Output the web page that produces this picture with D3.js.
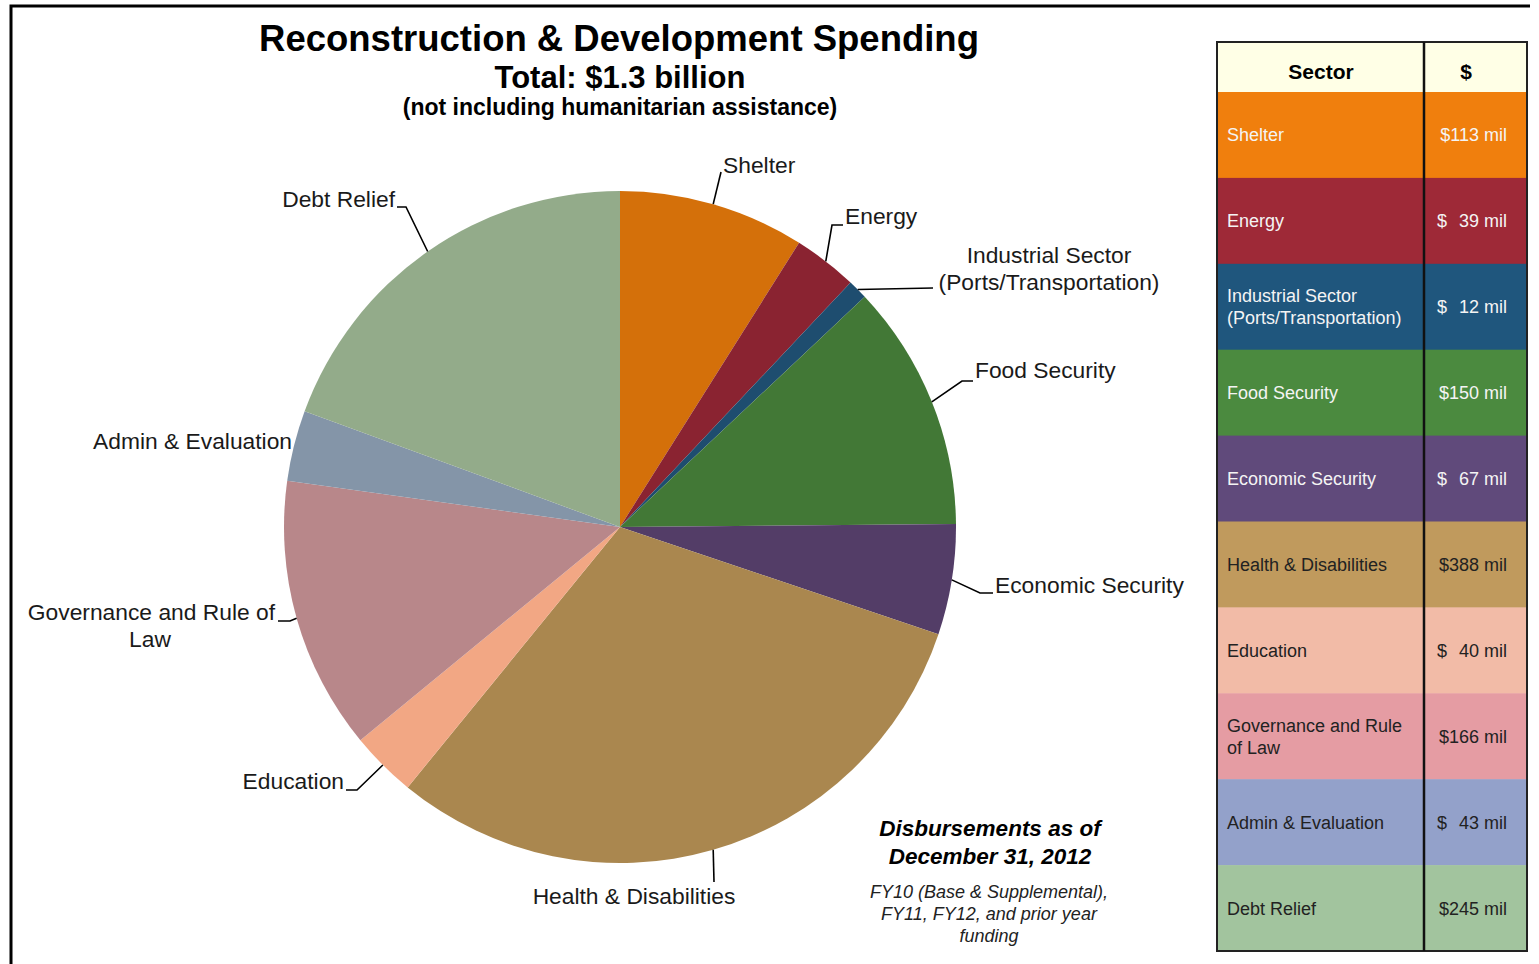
<!DOCTYPE html>
<html><head><meta charset="utf-8">
<script src="https://cdn.jsdelivr.net/npm/d3@7/dist/d3.min.js"></script>
<style>html,body{margin:0;padding:0;background:#fff;}svg{display:block;}</style>
</head><body>
<svg id="c" width="1539" height="964"></svg>
<script>
// ---- data ----
const sectors = ["Shelter","Energy","Industrial Sector (Ports/Transportation)","Food Security","Economic Security","Health & Disabilities","Education","Governance and Rule of Law","Admin & Evaluation","Debt Relief"];
const values = [113,39,12,150,67,388,40,166,43,245];
const pieLabelLines = [["Shelter"],["Energy"],["Industrial Sector","(Ports/Transportation)"],["Food Security"],["Economic Security"],["Health & Disabilities"],["Education"],["Governance and Rule of","Law"],["Admin & Evaluation"],["Debt Relief"]];
const tableLabelLines = [["Shelter"],["Energy"],["Industrial Sector","(Ports/Transportation)"],["Food Security"],["Economic Security"],["Health & Disabilities"],["Education"],["Governance and Rule","of Law"],["Admin & Evaluation"],["Debt Relief"]];
const titleText = "Reconstruction & Development Spending";
const subtitleText = "Total: $1.3 billion";
const noteText = "(not including humanitarian assistance)";
const dateLines = ["Disbursements as of","December 31, 2012"];
const fundLines = ["FY10 (Base & Supplemental),","FY11, FY12, and prior year","funding"];

// ---- styles ----
const pieColors = ["#D4700A","#8A2331","#1E4D6F","#427836","#533D67","#AA874F","#F2A784","#B8878A","#8495A8","#93AB8A"];
const tableColors = ["#F07F0D","#9E2937","#1F567D","#4B8A3F","#604A7B","#C09A5D","#F2BBA7","#E59CA3","#93A1CA","#A2C49E"];
const tableTextColors = ["#f4f4f4","#f4f4f4","#f4f4f4","#f4f4f4","#f4f4f4","#222","#222","#222","#222","#222"];
const FONT = "'Liberation Sans', Arial, sans-serif";

// label layout: elbow points, text anchor x, baseline y, anchor
const labelLayout = [
  {pts:[[721,172]], tx:723, ty:173, anchor:"start"},
  {pts:[[832,225],[843,225]], tx:845, ty:224, anchor:"start"},
  {pts:[[933,288]], tx:1049, ty:263, anchor:"middle"},
  {pts:[[962,381],[973,381]], tx:975, ty:378, anchor:"start"},
  {pts:[[980,593],[993,593]], tx:995, ty:593, anchor:"start"},
  {pts:[[714,882]], tx:634, ty:904, anchor:"middle"},
  {pts:[[357,790],[346,790]], tx:344, ty:789, anchor:"end"},
  {pts:[[290,621],[278,621]], tx:275, ty:620, anchor:"end", line2x:150},
  {pts:null, tx:292, ty:449, anchor:"end"},
  {pts:[[406,207],[397,207]], tx:395, ty:207, anchor:"end"}
];

const svg = d3.select("#c");

// frame
svg.append("path").attr("d","M11,964 L11,6 L1530,6").attr("fill","none").attr("stroke","#000").attr("stroke-width",3);

// titles
svg.append("text").attr("x",619).attr("y",51).attr("text-anchor","middle").attr("font-family",FONT).attr("font-weight","bold").attr("font-size",36.5).attr("fill","#000").text(titleText);
svg.append("text").attr("x",620).attr("y",88).attr("text-anchor","middle").attr("font-family",FONT).attr("font-weight","bold").attr("font-size",31).attr("fill","#000").text(subtitleText);
svg.append("text").attr("x",620).attr("y",115).attr("text-anchor","middle").attr("font-family",FONT).attr("font-weight","bold").attr("font-size",23).attr("fill","#000").text(noteText);

// pie
const cx = 620, cy = 527, R = 336;
const pie = d3.pie().sort(null).value(d => d)(values);
const arc = d3.arc().innerRadius(0).outerRadius(R);
const g = svg.append("g").attr("transform",`translate(${cx},${cy})`);
g.selectAll("path.slice").data(pie).join("path").attr("class","slice")
  .attr("d",arc).attr("fill",(d,i)=>pieColors[i]);

// labels
pie.forEach((d,i) => {
  const L = labelLayout[i];
  const mid = (d.startAngle + d.endAngle)/2;
  const sx = cx + R*Math.sin(mid), sy = cy - R*Math.cos(mid);
  if (L.pts) {
    const pts = [[sx,sy]].concat(L.pts);
    svg.append("path").attr("d", d3.line()(pts)).attr("fill","none").attr("stroke","#000").attr("stroke-width",1.6);
  }
  const lines = pieLabelLines[i];
  lines.forEach((t,j) => {
    let x = L.tx, anchor = L.anchor;
    if (j>0 && L.line2x!==undefined) { x = L.line2x; anchor = "middle"; }
    svg.append("text").attr("x",x).attr("y",L.ty + j*27).attr("text-anchor",anchor)
      .attr("font-family",FONT).attr("font-size",22.8).attr("fill","#1a1a1a").text(t);
  });
});

// note bottom
dateLines.forEach((t,j)=>{
  svg.append("text").attr("x",990).attr("y",836+j*28).attr("text-anchor","middle").attr("font-family",FONT)
    .attr("font-weight","bold").attr("font-style","italic").attr("font-size",22.5).attr("fill","#000").text(t);
});
fundLines.forEach((t,j)=>{
  svg.append("text").attr("x",989).attr("y",898+j*22).attr("text-anchor","middle").attr("font-family",FONT)
    .attr("font-style","italic").attr("font-size",18).attr("fill","#222").text(t);
});

// table
const tx0 = 1217, tx1 = 1527, tdiv = 1424, ty0 = 42, headH = 50, ty1 = 951;
const rowY = d3.scaleBand().domain(d3.range(sectors.length)).range([ty0+headH, ty1]).padding(0);
const tg = svg.append("g");
tg.append("rect").attr("x",tx0).attr("y",ty0).attr("width",tx1-tx0).attr("height",headH).attr("fill","#FFFFE6");
tg.selectAll("rect.row").data(sectors).join("rect").attr("class","row")
  .attr("x",tx0).attr("y",(d,i)=>rowY(i)).attr("width",tx1-tx0).attr("height",rowY.bandwidth()+0.5)
  .attr("fill",(d,i)=>tableColors[i]);
tg.append("text").attr("x",1321).attr("y",79).attr("text-anchor","middle").attr("font-family",FONT).attr("font-weight","bold").attr("font-size",21).attr("fill","#000").text("Sector");
tg.append("text").attr("x",1466).attr("y",79).attr("text-anchor","middle").attr("font-family",FONT).attr("font-weight","bold").attr("font-size",21).attr("fill","#000").text("$");
sectors.forEach((s,i)=>{
  const yc = rowY(i) + rowY.bandwidth()/2;
  const lines = tableLabelLines[i];
  const lh = 22;
  lines.forEach((t,j)=>{
    const y = yc + 6.5 + (j - (lines.length-1)/2)*lh;
    tg.append("text").attr("x",1227).attr("y",y).attr("font-family",FONT).attr("font-size",18).attr("fill",tableTextColors[i]).text(t);
  });
  if (values[i] >= 100) {
    tg.append("text").attr("x",1507).attr("y",yc+6.5).attr("text-anchor","end").attr("font-family",FONT).attr("font-size",18).attr("fill",tableTextColors[i]).text("$" + values[i] + " mil");
  } else {
    tg.append("text").attr("x",1437).attr("y",yc+6.5).attr("font-family",FONT).attr("font-size",18).attr("fill",tableTextColors[i]).text("$");
    tg.append("text").attr("x",1507).attr("y",yc+6.5).attr("text-anchor","end").attr("font-family",FONT).attr("font-size",18).attr("fill",tableTextColors[i]).text(values[i] + " mil");
  }
});
tg.append("rect").attr("x",tx0).attr("y",ty0).attr("width",tx1-tx0).attr("height",ty1-ty0).attr("fill","none").attr("stroke","#222").attr("stroke-width",2);
tg.append("line").attr("x1",tdiv).attr("x2",tdiv).attr("y1",ty0).attr("y2",ty1).attr("stroke","#111").attr("stroke-width",2.5);
</script>
</body></html>
